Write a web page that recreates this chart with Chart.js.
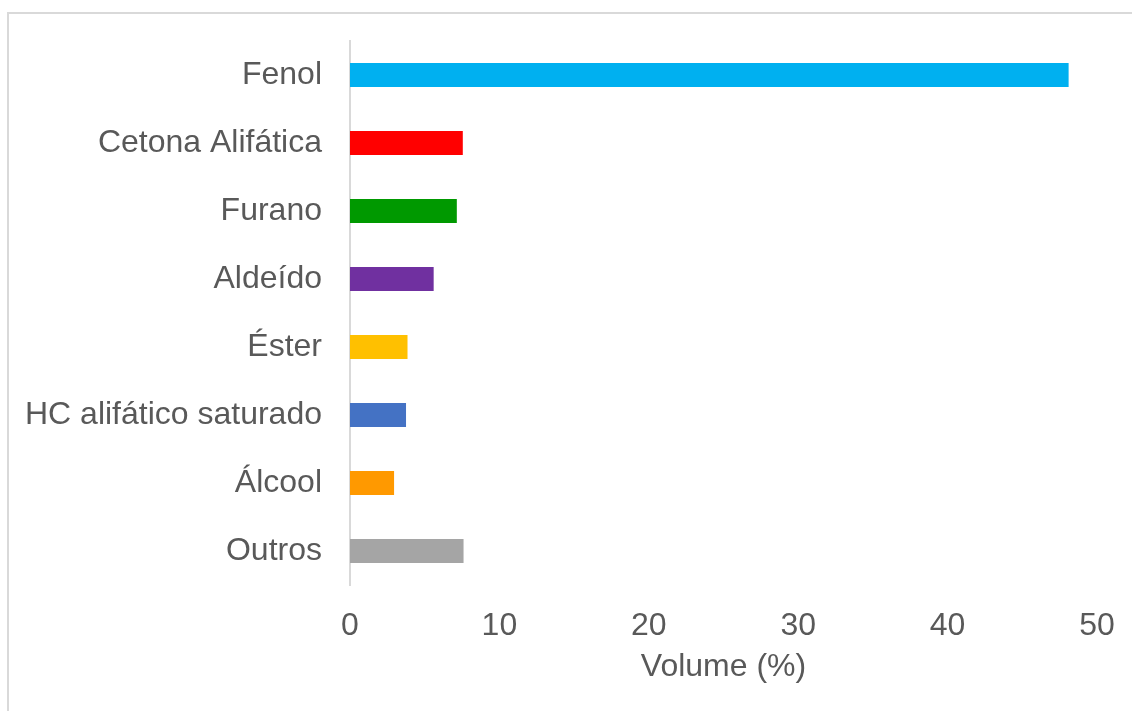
<!DOCTYPE html>
<html lang="pt">
  <head>
    <meta charset="UTF-8" />
    <title>Volume por classe</title>
    <script src="https://cdn.jsdelivr.net/npm/chart.js"></script>
    <style>
      html, body { margin: 0; padding: 0; background: #fff; }
      #wrap { position: relative; width: 1132px; height: 711px; overflow: hidden; }
      #frame {
        position: absolute; left: 7px; top: 12px; width: 1200px; height: 800px;
        border-top: 2px solid #d9d9d9; border-left: 2px solid #d9d9d9;
        pointer-events: none;
      }
    </style>
  </head>
  <body>
    <div id="wrap">
      <div id="frame"></div>
      <canvas id="chart" width="1132" height="711"></canvas>
    </div>

    <script>
      const classes = ['Fenol', 'Cetona Alifática', 'Furano', 'Aldeído', 'Éster', 'HC alifático saturado', 'Álcool', 'Outros'];
      const volume = [48.1, 7.55, 7.15, 5.6, 3.85, 3.75, 2.95, 7.6];
      const barColors = ['#00B0F0', '#FF0000', '#009900', '#7030A0', '#FFC000', '#4472C4', '#FF9900', '#A5A5A5'];
      const xTicks = [0, 10, 20, 30, 40, 50];

      const font = { family: "'Liberation Sans', Arial, sans-serif", size: 32 };
      const grey = '#595959';

      new Chart(document.getElementById('chart'), {
        type: 'bar',
        data: {
          labels: classes,
          datasets: [{
            data: volume,
            backgroundColor: barColors,
            categoryPercentage: 1,
            barPercentage: 0.353
          }]
        },
        options: {
          indexAxis: 'y',
          responsive: false,
          animation: false,
          layout: { padding: { top: 41, right: 35, bottom: 25, left: 0 } },
          plugins: { legend: { display: false }, tooltip: { enabled: false } },
          scales: {
            x: {
              min: xTicks[0],
              max: xTicks[xTicks.length - 1],
              afterBuildTicks: (s) => { s.ticks = xTicks.map(v => ({ value: v })); },
              afterFit: (s) => { s.height = 101; },
              grid: { display: false },
              border: { display: false },
              ticks: { color: grey, font, padding: 14, maxRotation: 0 },
              title: { display: true, text: 'Volume (%)', color: grey, font, padding: { top: 0, bottom: 0 } }
            },
            y: {
              afterFit: (s) => { s.width = 350; },
              grid: { display: false },
              border: { display: true, color: '#d9d9d9', width: 2 },
              ticks: { color: grey, font, padding: 20 }
            }
          }
        }
      });
    </script>
  </body>
</html>
